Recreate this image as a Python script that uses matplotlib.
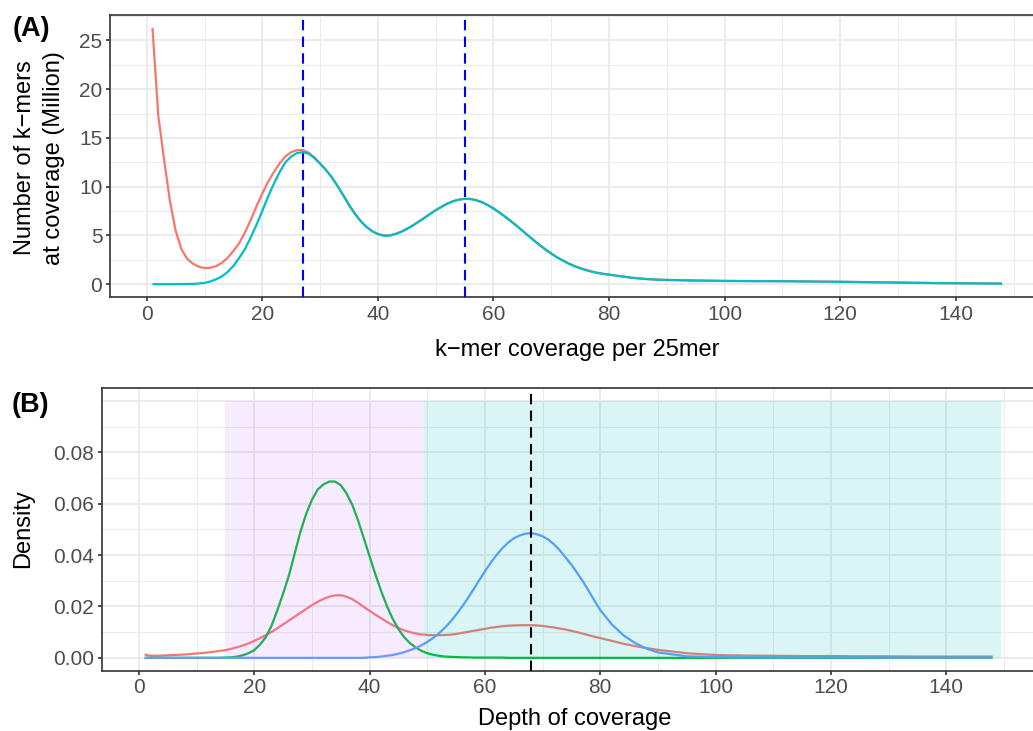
import matplotlib
matplotlib.use("Agg")
import matplotlib.pyplot as plt
from matplotlib.ticker import MultipleLocator, FixedLocator, FormatStrFormatter

# ---------------- data ----------------
coverage = list(range(1, 81)) + [82, 84, 86, 88, 90, 95, 100, 105, 110, 115,
                                 120, 125, 130, 135, 140, 145, 148]

# Panel A: k-mer spectrum (millions)
kmer_observed = [26.3, 17.3, 12.8, 8.6, 5.5, 3.6, 2.6, 2.1, 1.8, 1.65,
                 1.68, 1.85, 2.2, 2.7, 3.4, 4.2, 5.3, 6.6, 8.0, 9.3,
                 10.5, 11.5, 12.4, 13.1, 13.55, 13.75, 13.75, 13.5, 13.0, 12.4,
                 11.75, 11.0, 10.1, 9.15, 8.15, 7.25, 6.5, 5.9, 5.45, 5.15,
                 5.0, 5.0, 5.15, 5.38, 5.68, 6.02, 6.4, 6.8, 7.2, 7.6,
                 7.95, 8.27, 8.52, 8.68, 8.77, 8.75, 8.63, 8.42, 8.13, 7.78,
                 7.38, 6.94, 6.48, 6.0, 5.5, 5.0, 4.5, 4.02, 3.57, 3.15,
                 2.77, 2.43, 2.13, 1.87, 1.65, 1.46, 1.3, 1.17, 1.07, 0.99,
                 0.82, 0.66, 0.55, 0.48, 0.44, 0.38, 0.34, 0.32, 0.31, 0.28,
                 0.25, 0.21, 0.17, 0.13, 0.10, 0.08, 0.07]
kmer_fitted = [0.0, 0.0, 0.0, 0.0, 0.0, 0.01, 0.02, 0.03, 0.07, 0.13,
               0.28, 0.5, 0.8, 1.25, 1.87, 2.7, 3.6, 4.8, 6.1, 7.5,
               9.0, 10.3, 11.5, 12.5, 13.1, 13.45, 13.55, 13.4, 12.95, 12.35,
               11.72, 10.98, 10.08, 9.13, 8.12, 7.23, 6.48, 5.88, 5.43, 5.13,
               4.98, 4.98, 5.13, 5.36, 5.66, 6.0, 6.38, 6.78, 7.18, 7.58,
               7.93, 8.25, 8.5, 8.66, 8.75, 8.73, 8.61, 8.4, 8.11, 7.76,
               7.36, 6.92, 6.46, 5.98, 5.48, 4.98, 4.48, 4.0, 3.55, 3.13,
               2.75, 2.41, 2.11, 1.85, 1.63, 1.44, 1.28, 1.15, 1.05, 0.97,
               0.81, 0.65, 0.54, 0.47, 0.43, 0.37, 0.33, 0.31, 0.30, 0.27,
               0.24, 0.20, 0.16, 0.12, 0.09, 0.07, 0.05]
peaks_a = [27, 55]

# Panel B: densities
density_all = [0.0013, 0.0008, 0.0008, 0.0009, 0.001, 0.0011, 0.0012, 0.0013, 0.0015, 0.0017,
               0.0019, 0.0021, 0.0024, 0.0027, 0.003, 0.0035, 0.0041, 0.0048, 0.0056, 0.0066,
               0.0077, 0.0088, 0.0101, 0.0115, 0.013, 0.0145, 0.016, 0.0175, 0.019, 0.0205,
               0.0218, 0.0229, 0.0238, 0.0243, 0.0244, 0.0238, 0.0228, 0.0214, 0.0198, 0.0183,
               0.0168, 0.0154, 0.014, 0.0127, 0.0116, 0.0107, 0.01, 0.0095, 0.0091, 0.0089,
               0.0088, 0.0088, 0.0089, 0.009, 0.0093, 0.0097, 0.0101, 0.0105, 0.0109, 0.0113,
               0.0117, 0.012, 0.0123, 0.0125, 0.0126, 0.0127, 0.0127, 0.0127, 0.0126, 0.0124,
               0.0121, 0.0118, 0.0114, 0.011, 0.0105, 0.01, 0.0094, 0.0088, 0.0082, 0.0077,
               0.0066, 0.0055, 0.0046, 0.0038, 0.0031, 0.0018, 0.0011, 0.0009, 0.0008, 0.0007,
               0.0007, 0.0006, 0.0006, 0.0005, 0.0005, 0.0005, 0.0005]
density_comp1 = [0, 0, 0, 0, 0, 0, 0, 0, 0, 0,
                 0, 0, 0, 0, 0.0001, 0.0002, 0.0005, 0.001, 0.0018, 0.003,
                 0.0052, 0.008, 0.0125, 0.0185, 0.025, 0.032, 0.0405, 0.049, 0.056, 0.0615,
                 0.0655, 0.0675, 0.0686, 0.0686, 0.0672, 0.064, 0.0595, 0.0535, 0.0465, 0.0395,
                 0.0325, 0.026, 0.0202, 0.0152, 0.0112, 0.008, 0.0057, 0.004, 0.0027, 0.0018,
                 0.0012, 0.0008, 0.0005, 0.0004, 0.0003, 0.0002, 0.0002, 0.0001, 0.0001, 0.0001,
                 0.0001, 0.0001, 0.0001, 0, 0, 0, 0, 0, 0, 0,
                 0, 0, 0, 0, 0, 0, 0, 0, 0, 0,
                 0, 0, 0, 0, 0, 0, 0, 0, 0, 0,
                 0, 0, 0, 0, 0, 0, 0]
density_comp2 = [0, 0, 0, 0, 0, 0, 0, 0, 0, 0,
                 0, 0, 0, 0, 0, 0, 0, 0, 0, 0,
                 0, 0, 0, 0, 0, 0, 0, 0, 0, 0,
                 0, 0, 0, 0, 0, 0, 0, 0, 0, 0.0002,
                 0.0003, 0.0005, 0.0008, 0.0011, 0.0016, 0.0022, 0.003, 0.0038, 0.0049, 0.0062,
                 0.0077, 0.0095, 0.0116, 0.014, 0.0168, 0.0198, 0.0231, 0.0266, 0.0302, 0.0337,
                 0.037, 0.04, 0.0426, 0.0448, 0.0465, 0.0476, 0.0483, 0.0485, 0.0481, 0.0473,
                 0.046, 0.0441, 0.0418, 0.039, 0.0362, 0.033, 0.0297, 0.026, 0.0222, 0.0186,
                 0.013, 0.0088, 0.0058, 0.0036, 0.0021, 0.0006, 0.0003, 0.0002, 0.0002, 0.0002,
                 0.0002, 0.0002, 0.0001, 0.0001, 0.0001, 0.0001, 0.0001]
region_1 = (15, 49.5)
region_2 = (49.5, 149.5)
region_top = 0.1
peak_b = 68

# ---------------- figure ----------------
plt.rcParams['font.family'] = ['Liberation Sans', 'DejaVu Sans']
W, H = 1033, 731
fig = plt.figure(figsize=(W / 100, H / 100), dpi=100)


def box(l, t, r, b):
    return [l / W, 1 - b / H, (r - l) / W, (b - t) / H]


def style(ax):
    ax.set_facecolor('white')
    for s in ax.spines.values():
        s.set_color('#333333')
        s.set_linewidth(1.2)
    ax.tick_params(which='major', length=3, width=1.2, color='#333333',
                   labelcolor='#4D4D4D', labelsize=15, pad=2.5)
    ax.tick_params(which='minor', length=0)
    ax.grid(which='major', color='#EBEBEB', lw=1.4)
    ax.grid(which='minor', color='#EBEBEB', lw=0.75)
    ax.set_axisbelow(True)


RED, TEAL, GREEN, BLUE = '#F8766D', '#00BFC4', '#00BA38', '#619CFF'
LW = 1.6
line_kw = dict(lw=LW, solid_joinstyle='round', solid_capstyle='butt')

# Panel A
axA = fig.add_axes(box(110, 15, 1044.6, 297))
style(axA)
axA.plot(coverage, kmer_observed, color=RED, zorder=2, **line_kw)
axA.plot(coverage, kmer_fitted, color=TEAL, zorder=3, **line_kw)
for p in peaks_a:
    axA.axvline(p, color='#0000FF', lw=1.5, linestyle=(0, (5, 3)), zorder=4)
axA.set_xlim(-6.35, 155.35)
axA.set_ylim(-1.315, 27.615)
axA.xaxis.set_major_locator(MultipleLocator(20))
axA.xaxis.set_minor_locator(MultipleLocator(10))
axA.yaxis.set_major_locator(MultipleLocator(5))
axA.yaxis.set_minor_locator(MultipleLocator(2.5))

# Panel B
axB = fig.add_axes(box(101.7, 388, 1047, 670.7))
style(axB)
axB.plot(coverage, density_all, color=RED, zorder=2, **line_kw)
axB.plot(coverage, density_comp1, color=GREEN, zorder=2.1, **line_kw)
axB.plot(coverage, density_comp2, color=BLUE, zorder=2.2, **line_kw)
axB.fill_between(region_1, 0, region_top, color='#C77CFF', alpha=0.15, lw=0, zorder=3)
axB.fill_between(region_2, 0, region_top, color='#00BFC4', alpha=0.15, lw=0, zorder=3)
axB.axvline(peak_b, color='black', lw=1.5, linestyle=(0, (5, 3)), zorder=4)
axB.axhline(0.10, color='#EBEBEB', lw=1.4, zorder=0.5)
axB.set_xlim(-6.45, 157.45)
axB.set_ylim(-0.005, 0.105)
axB.xaxis.set_major_locator(MultipleLocator(20))
axB.xaxis.set_minor_locator(MultipleLocator(10))
axB.yaxis.set_major_locator(FixedLocator([0, 0.02, 0.04, 0.06, 0.08]))
axB.yaxis.set_minor_locator(FixedLocator([0.01, 0.03, 0.05, 0.07, 0.09]))
axB.yaxis.set_major_formatter(FormatStrFormatter('%.2f'))


# Text
def px(x, y):
    return x / W, 1 - y / H


fig.text(*px(12.5, 36), '(A)', fontsize=19.5, fontweight='bold', ha='left', va='baseline')
fig.text(*px(11.5, 411.5), '(B)', fontsize=19.5, fontweight='bold', ha='left', va='baseline')

fig.text(*px(577.3, 356), 'k\u2212mer coverage per 25mer', fontsize=17, ha='center', va='baseline')
fig.text(*px(574.3, 725), 'Depth of coverage', fontsize=17, ha='center', va='baseline')

fig.text(*px(31.5, 158), 'Number of k\u2212mers', fontsize=17, rotation=90,
         ha='center', va='baseline', rotation_mode='anchor')
fig.text(*px(60, 158), 'at coverage (Million)', fontsize=17, rotation=90,
         ha='center', va='baseline', rotation_mode='anchor')
fig.text(*px(29, 529), 'Density', fontsize=17, rotation=90,
         ha='center', va='baseline', rotation_mode='anchor')

fig.savefig('out.png', dpi=100)
